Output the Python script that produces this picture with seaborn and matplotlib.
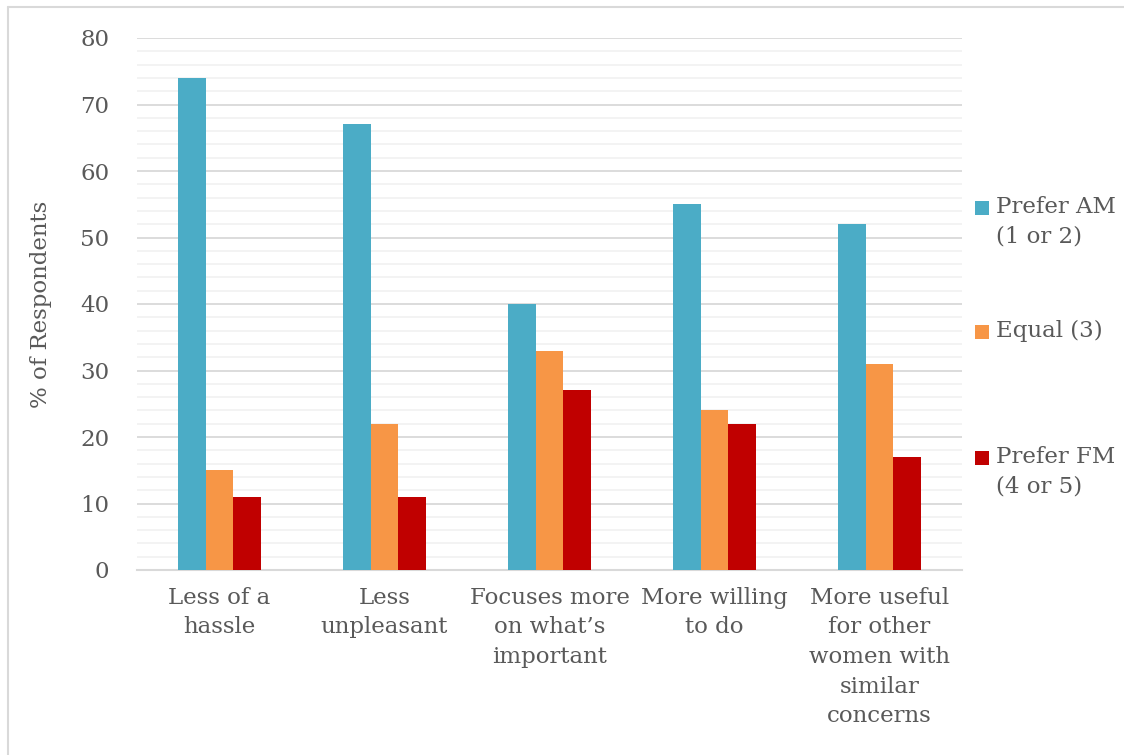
import matplotlib
matplotlib.use("Agg")
import matplotlib.pyplot as plt
from matplotlib.lines import Line2D
from matplotlib.patches import Rectangle
import numpy as np
import pandas as pd
import seaborn as sns

# Survey results: share of respondents preferring each method
categories = [
    "Less of a\nhassle",
    "Less\nunpleasant",
    "Focuses more\non what\u2019s\nimportant",
    "More willing\nto do",
    "More useful\nfor other\nwomen with\nsimilar\nconcerns",
]
series = ["Prefer AM\n(1 or 2)", "Equal (3)", "Prefer FM\n(4 or 5)"]
prefer_am = [74, 67, 40, 55, 52]
equal = [15, 22, 33, 24, 31]
prefer_fm = [11, 11, 27, 22, 17]
colors = ["#4BACC6", "#F79646", "#C00000"]
y_ticks = [0, 10, 20, 30, 40, 50, 60, 70, 80]

df = pd.DataFrame({
    "category": categories * 3,
    "series": [series[0]] * 5 + [series[1]] * 5 + [series[2]] * 5,
    "value": prefer_am + equal + prefer_fm,
})

sns.set_theme(style="white")
plt.rcParams["font.family"] = ["DejaVu Serif"]
text_color = "#595959"
fs = 16.5
line_sp = 1.45

fig = plt.figure(figsize=(11.24, 7.55), dpi=100)
W, H = 1124, 755
ax = fig.add_axes([137 / W, 1 - 570 / H, (962 - 137) / W, (570 - 38) / H])

sns.barplot(data=df, x="category", y="value", hue="series", palette=colors,
            order=categories, hue_order=series, width=0.5, dodge=True,
            saturation=1, errorbar=None, legend=False, ax=ax, zorder=3,
            linewidth=0)

ax.set_ylim(0, 80)
ax.set_xlim(-0.5, len(categories) - 0.5)
ax.set_yticks(y_ticks)
ax.set_yticks(np.arange(0, 81, 2), minor=True)
ax.yaxis.grid(True, which="major", color="#D9D9D9", linewidth=1.3, zorder=0)
ax.yaxis.grid(True, which="minor", color="#F2F2F2", linewidth=1.3, zorder=0)
ax.set_axisbelow(True)
for s in ["left", "right", "top"]:
    ax.spines[s].set_visible(False)
ax.spines["bottom"].set_color("#D9D9D9")
ax.spines["bottom"].set_linewidth(1.5)
ax.tick_params(axis="both", which="both", length=0)
ax.tick_params(axis="y", pad=20, labelsize=fs, labelcolor=text_color)
ax.tick_params(axis="x", pad=12, labelsize=fs, labelcolor=text_color)
for lbl in ax.get_xticklabels():
    lbl.set_horizontalalignment("center")
    lbl.set_multialignment("center")
    lbl.set_linespacing(line_sp)
ax.set_xlabel("")
ax.set_ylabel("% of Respondents", fontsize=fs, color=text_color, labelpad=20)

# Legend drawn at the right side, marker aligned with the first text line
legend_tops = [201, 325, 451]
for name, col, top in zip(series, colors, legend_tops):
    fig.patches.append(Rectangle((975 / W, 1 - (top + 14) / H), 14 / W, 14 / H,
                                 transform=fig.transFigure, facecolor=col,
                                 edgecolor="none"))
    fig.text(996 / W, 1 - (top - 5) / H, name, ha="left", va="top",
             fontsize=fs, color=text_color, linespacing=line_sp)

# Light frame along the top and left edges
fig.add_artist(Line2D([8 / W, 8 / W], [0, 1 - 7 / H], transform=fig.transFigure,
                      color="#D9D9D9", linewidth=1.5))
fig.add_artist(Line2D([8 / W, 1], [1 - 7 / H, 1 - 7 / H], transform=fig.transFigure,
                      color="#D9D9D9", linewidth=1.5))

fig.savefig("out.png", dpi=100, facecolor="white")
